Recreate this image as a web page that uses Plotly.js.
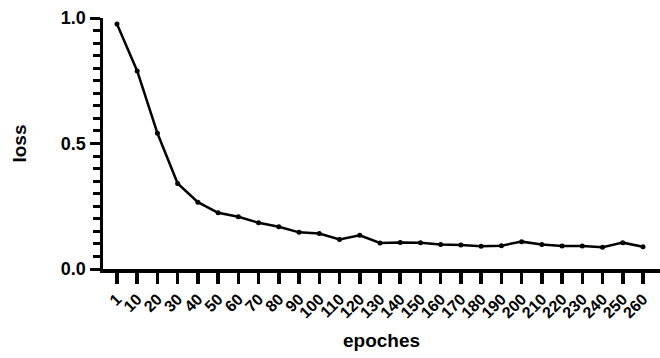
<!DOCTYPE html>
<html>
<head>
<meta charset="utf-8">
<script src="https://cdn.plot.ly/plotly-3.0.1.min.js"></script>
<style>
html,body{margin:0;padding:0;background:#fff;}
#chart{width:660px;height:358px;}
#chart path.xtick{stroke-width:3.5px !important;stroke:#000 !important;}
#chart path.ytick{stroke-width:3px !important;stroke:#000 !important;}
</style>
</head>
<body>
<div id="chart"></div>
<script>
const epochs = ["1","10","20","30","40","50","60","70","80","90","100","110","120","130","140","150","160","170","180","190","200","210","220","230","240","250","260"];
const loss = [0.976,0.789,0.541,0.341,0.266,0.224,0.208,0.184,0.168,0.146,0.141,0.118,0.134,0.104,0.106,0.105,0.098,0.096,0.091,0.093,0.109,0.098,0.092,0.092,0.087,0.105,0.089];
const xTitle = "epoches";
const yTitle = "loss";

const fontFam = "Liberation Sans, Arial, sans-serif";

const trace = {
  x: epochs,
  y: loss,
  type: "scatter",
  mode: "lines+markers",
  line: {color: "#000", width: 2.5},
  marker: {color: "#000", size: 5}
};

const layout = {
  width: 660,
  height: 358,
  margin: {l: 103, r: 0, t: 18, b: 89},
  showlegend: false,
  xaxis: {
    type: "category",
    range: [-0.69, 26.84],
    showline: true, linecolor: "#000", linewidth: 3.5,
    ticks: "outside", ticklen: 11, tickwidth: 3.5, tickcolor: "#000",
    tickangle: -45,
    tickfont: {family: fontFam, size: 16, weight: "bold", color: "#000"},
    showgrid: false,
    title: {text: xTitle, font: {family: fontFam, size: 19, weight: "bold", color: "#000"}, standoff: 14}
  },
  yaxis: {
    range: [0, 1],
    dtick: 0.5,
    tickformat: ".1f",
    showline: true, linecolor: "#000", linewidth: 3.5,
    ticks: "outside", ticklen: 10, tickwidth: 3.5, tickcolor: "#000",
    minor: {dtick: 0.05, ticks: "outside", ticklen: 7, tickwidth: 3, tickcolor: "#000"},
    tickfont: {family: fontFam, size: 18, weight: "bold", color: "#000"},
    showgrid: false,
    title: {text: yTitle, font: {family: fontFam, size: 19, weight: "bold", color: "#000"}, standoff: 30}
  }
};

Plotly.newPlot("chart", [trace], layout, {displayModeBar: false, staticPlot: true});
</script>
</body>
</html>
